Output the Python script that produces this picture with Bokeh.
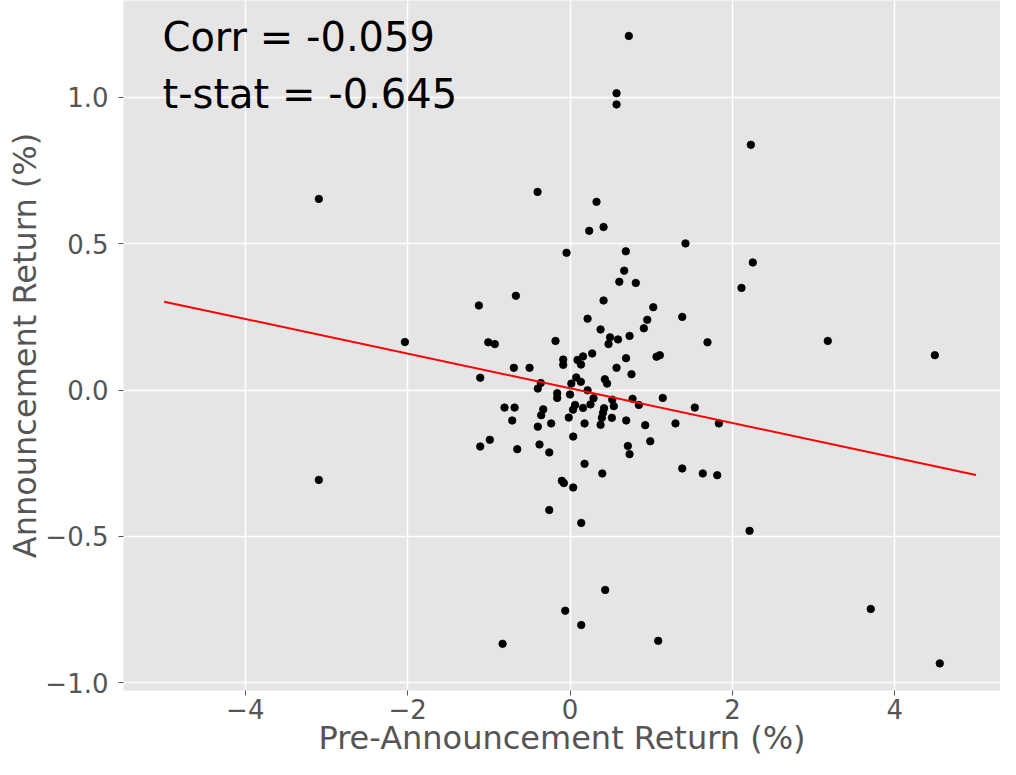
import math
from bokeh.plotting import figure
from bokeh.models import Range1d, FixedTicker, CustomJSTickFormatter, Label
from bokeh.embed import file_html
from bokeh.resources import INLINE

# ---- data ----
pre_return = [
    0.724, 0.573, 0.573, 2.227, -3.094, -0.400, 1.422, 0.236, 0.413, -0.043,
    2.251, 0.687, 0.667, 0.607, 0.810, 2.112, -0.667, -1.123, 0.413, 0.216,
    1.025, 1.382, 0.951, 0.909, 0.376, 0.493, 0.591, 0.474, 0.733, -1.007,
    -0.926, -0.179, 1.693, 3.175, 4.493, -2.034, 0.273, 0.160, 0.092, -0.084,
    -0.084, 0.135, 1.065, 1.106, 0.690, 0.573, -0.692, -0.499, 0.757, -1.106,
    0.076, 0.133, 0.016, -0.360, -0.397, 0.429, 0.456, 0.216, -0.158, -0.158,
    0.000, 0.289, 0.520, 0.770, 1.142, 0.539, 0.252, 0.160, 0.062, 0.037,
    0.419, 0.406, 0.392, 0.376, 0.515, 0.179, -0.016, -0.807, -0.683, -0.330,
    -0.355, -0.712, -0.232, -0.397, 0.039, -0.988, -1.106, -0.650, -0.376, -0.256,
    0.179, 0.397, -0.101, -0.076, 0.039, -0.256, 0.138, 0.847, 1.537, 0.692,
    0.926, 1.299, 1.833, 0.988, 0.712, 0.733, 1.382, 1.635, 1.813, 2.211,
    -3.094, -0.059, 0.138, -0.831, 0.433, 1.086, 3.704, 4.554, 0.326,
]
ann_return = [
    1.210, 1.014, 0.976, 0.838, 0.653, 0.677, 0.501, 0.544, 0.557, 0.469,
    0.436, 0.474, 0.408, 0.370, 0.366, 0.349, 0.322, 0.289, 0.306, 0.244,
    0.283, 0.250, 0.240, 0.211, 0.207, 0.180, 0.173, 0.157, 0.185, 0.163,
    0.157, 0.168, 0.163, 0.168, 0.119, 0.164, 0.125, 0.115, 0.103, 0.104,
    0.086, 0.087, 0.114, 0.119, 0.109, 0.076, 0.076, 0.076, 0.054, 0.042,
    0.043, 0.028, 0.022, 0.024, 0.005, 0.037, 0.022, -0.001, -0.011, -0.027,
    -0.015, -0.028, -0.033, -0.030, -0.027, -0.055, -0.049, -0.061, -0.051, -0.067,
    -0.062, -0.078, -0.095, -0.119, -0.095, -0.114, -0.094, -0.060, -0.060, -0.066,
    -0.086, -0.104, -0.114, -0.125, -0.159, -0.170, -0.193, -0.202, -0.186, -0.213,
    -0.252, -0.285, -0.310, -0.318, -0.333, -0.410, -0.454, -0.051, -0.060, -0.104,
    -0.120, -0.114, -0.114, -0.175, -0.191, -0.219, -0.268, -0.285, -0.291, -0.481,
    -0.307, -0.754, -0.803, -0.867, -0.683, -0.857, -0.748, -0.934, 0.643,
]
fit_x = [-5.0, 5.0]
fit_y = [0.302, -0.290]
x_ticks = [-4, -2, 0, 2, 4]
y_ticks = [-1.0, -0.5, 0.0, 0.5, 1.0]
corr_text = "Corr = -0.059"
tstat_text = "t-stat = -0.645"
x_label = "Pre-Announcement Return (%)"
y_label = "Announcement Return (%)"

FONT = "DejaVu Sans"
GREY = "#555555"

p = figure(width=1000, height=759,
           x_range=Range1d(-5.5, 5.302), y_range=Range1d(-1.0266, 1.331),
           output_backend="svg", toolbar_location=None,
           min_border_left=123, min_border_right=0,
           min_border_top=0, min_border_bottom=67,
           background_fill_color="#E5E5E5", border_fill_color="white")
p.outline_line_color = None

p.xaxis.ticker = FixedTicker(ticks=x_ticks)
p.yaxis.ticker = FixedTicker(ticks=y_ticks)
p.xgrid.ticker = FixedTicker(ticks=x_ticks)
p.ygrid.ticker = FixedTicker(ticks=y_ticks)
p.grid.grid_line_color = "white"
p.grid.grid_line_width = 1.5
p.grid.minor_grid_line_color = None

p.xaxis.formatter = CustomJSTickFormatter(
    code='return (tick < 0 ? "\\u2212" : "") + Math.abs(tick).toFixed(0);')
p.yaxis.formatter = CustomJSTickFormatter(
    code='return (tick < 0 ? "\\u2212" : "") + Math.abs(tick).toFixed(1);')

for ax in (p.xaxis, p.yaxis):
    ax.axis_line_color = None
    ax.major_tick_line_color = GREY
    ax.major_tick_line_width = 1
    ax.major_tick_in = 0
    ax.major_tick_out = 5
    ax.minor_tick_line_color = None
    ax.major_label_text_font = FONT
    ax.major_label_text_font_size = "26px"
    ax.major_label_text_color = GREY
    ax.axis_label_text_font = FONT
    ax.axis_label_text_font_size = "32px"
    ax.axis_label_text_color = GREY
    ax.axis_label_text_font_style = "normal"

p.xaxis.axis_label = x_label
p.yaxis.axis_label = y_label
p.xaxis.major_label_standoff = 3
p.yaxis.major_label_standoff = 10
p.xaxis.axis_label_standoff = -3
p.yaxis.axis_label_standoff = -2

p.scatter(pre_return, ann_return, size=7.5, fill_color="black",
          line_color="black", line_width=0.8)
p.line(fit_x, fit_y, line_color="red", line_width=2)

p.add_layout(Label(x=-5.02, y=1.205, text=corr_text, text_font=FONT,
                   text_font_size="40px", text_color="black",
                   text_baseline="alphabetic"))
p.add_layout(Label(x=-5.02, y=1.013, text=tstat_text, text_font=FONT,
                   text_font_size="40px", text_color="black",
                   text_baseline="alphabetic"))

open("out.html", "w").write(file_html(p, INLINE))
